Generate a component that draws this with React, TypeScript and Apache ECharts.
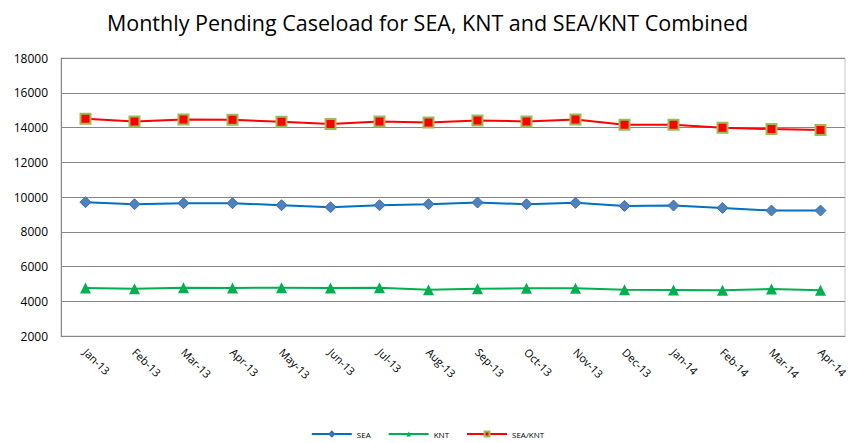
import React, { useEffect, useRef } from "react";
import * as echarts from "echarts";

const categories = ["Jan-13","Feb-13","Mar-13","Apr-13","May-13","Jun-13","Jul-13","Aug-13","Sep-13","Oct-13","Nov-13","Dec-13","Jan-14","Feb-14","Mar-14","Apr-14"];
const seaValues = [9700,9585,9643,9643,9527,9412,9527,9585,9681,9585,9662,9489,9508,9373,9220,9220];
const kntValues = [4762,4724,4781,4762,4781,4762,4781,4667,4724,4743,4743,4667,4648,4628,4705,4628];
const combinedValues = [14503,14350,14465,14445,14330,14196,14350,14292,14407,14350,14465,14158,14158,13985,13908,13850];
const titleText = "Monthly Pending Caseload for SEA, KNT and SEA/KNT Combined";

export default function App() {
  const ref = useRef<HTMLDivElement>(null);
  useEffect(() => {
    const chart = echarts.init(ref.current!, null, { renderer: "svg" });
    const font = "Open Sans";
    chart.setOption({
      animation: false,
      textStyle: { fontFamily: font },
      title: {
        text: titleText,
        left: "center",
        top: 6,
        textStyle: { fontFamily: font, fontSize: 21.5, fontWeight: "normal", color: "#000" },
      },
      legend: {
        bottom: 0,
        left: "center",
        itemWidth: 40,
        itemHeight: 6,
        itemGap: 17,
        textStyle: { fontSize: 8, color: "#000", fontFamily: font },
        data: ["SEA", "KNT", "SEA/KNT"],
      },
      grid: {
        left: 61,
        right: 10,
        top: 58,
        bottom: 107,
        show: true,
        borderColor: "#c8c8c8",
        borderWidth: 1,
      },
      xAxis: {
        type: "category",
        data: categories,
        boundaryGap: true,
        axisLine: { show: true, lineStyle: { color: "#868686", width: 1 } },
        axisTick: { show: false },
        axisLabel: { rotate: -45, color: "#000", fontSize: 11, margin: 14, interval: 0 },
      },
      yAxis: {
        type: "value",
        min: 2000,
        max: 18000,
        interval: 2000,
        axisLine: { show: true, lineStyle: { color: "#868686" } },
        axisTick: { show: false },
        splitLine: { lineStyle: { color: "#868686", width: 1 } },
        axisLabel: { color: "#000", fontSize: 12, margin: 13, formatter: (v: number) => String(v) },
      },
      series: [
        {
          name: "SEA",
          type: "line",
          data: seaValues,
          symbol: "diamond",
          symbolSize: 11,
          lineStyle: { color: "#0070C0", width: 2 },
          itemStyle: { color: "#4F81BD", borderColor: "#3A6EB5", borderWidth: 1 },
        },
        {
          name: "KNT",
          type: "line",
          data: kntValues,
          symbol: "triangle",
          symbolSize: 11,
          lineStyle: { color: "#00B050", width: 2 },
          itemStyle: { color: "#00B050" },
        },
        {
          name: "SEA/KNT",
          type: "line",
          data: combinedValues,
          symbol: "rect",
          symbolSize: 10,
          lineStyle: { color: "#FF0000", width: 2 },
          itemStyle: { color: "#FF0000", borderColor: "#9BBB59", borderWidth: 2 },
        },
      ],
    });
    return () => chart.dispose();
  }, []);
  return <div ref={ref} style={{ width: 855, height: 443, position: "absolute", left: 0, top: 0 }} />;
}
